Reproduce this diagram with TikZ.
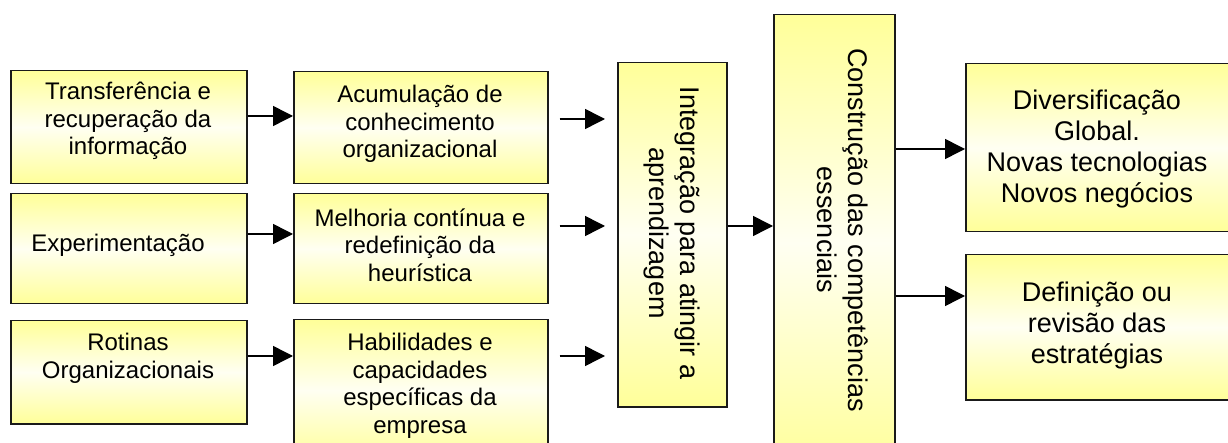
\documentclass[tikz,border=0pt]{standalone}
\usepackage{fontspec}
\setmainfont{Liberation Sans}
\usetikzlibrary{arrows.meta}
\definecolor{boxyellow}{HTML}{FFFF99}
\definecolor{boxlight}{HTML}{FFFFF2}
\definecolor{boxline}{HTML}{1A1A1A}
\begin{document}
\begin{tikzpicture}[x=1pt,y=-1pt,
  box/.style={draw=boxline, line width=1.5pt, rectangle, inner sep=0pt, anchor=north west,
    top color=boxyellow, bottom color=boxyellow, middle color=boxlight},
  txt/.style={align=center, font=\fontsize{24}{27.5}\selectfont, inner sep=0pt},
  bigtxt/.style={align=center, font=\fontsize{27}{31}\selectfont, inner sep=0pt},
  arr/.style={line width=1.5pt, draw=black, -{Triangle[length=20pt,width=20pt]}},
]
\useasboundingbox (0,0) rectangle (1228,443);
% boxes
\node[box, minimum width=236pt, minimum height=113pt] (A1) at (10,70) {};
\node[box, minimum width=236pt, minimum height=110pt] (A2) at (10,193) {};
\node[box, minimum width=236pt, minimum height=103pt] (A3) at (10,320) {};
\node[box, minimum width=254pt, minimum height=112pt] (B1) at (293,71) {};
\node[box, minimum width=254pt, minimum height=110pt] (B2) at (293,193) {};
\node[box, minimum width=254pt, minimum height=141pt] (B3) at (293,319) {};
\node[box, minimum width=109pt, minimum height=344pt] (I) at (617,62) {};
\node[box, minimum width=121pt, minimum height=456pt] (C) at (773,14) {};
\node[box, minimum width=275pt, minimum height=168pt] (D1) at (965,63) {};
\node[box, minimum width=275pt, minimum height=145pt] (D2) at (965,254) {};
% texts
\node[txt] (tA1) at (128,121) {Transferência e\\recuperação da\\informação};
\node[txt] (tA2) at (118,245) {Experimentação};
\node[txt] (tA3) at (128,358.5) {Rotinas\\Organizacionais};
\node[txt] (tB1) at (420,124) {Acumulação de\\conhecimento\\organizacional};
\node[txt] (tB2) at (420,245) {Melhoria contínua e\\redefinição da\\heurística};
\node[txt] (tB3) at (420,386) {Habilidades e\\capacidades\\específicas da\\empresa};
\node[bigtxt, rotate=-90] (tI) at (672,233) {Integração para atingir a\\aprendizagem};
\node[bigtxt, rotate=-90] (tC) at (843,230) {Construção das competências\\essenciais};
\node[bigtxt] (tD1) at (1097,149) {Diversificação\\Global.\\Novas tecnologias\\Novos negócios};
\node[bigtxt] (tD2) at (1097,326) {Definição ou\\revisão das\\estratégias};
% arrow levels
\coordinate (ya1) at (0,116);
\coordinate (ya2) at (0,234);
\coordinate (ya3) at (0,356);
\coordinate (yb1) at (0,119);
\coordinate (yb2) at (0,226);
\coordinate (yb3) at (0,356);
\coordinate (yi) at (0,226);
\coordinate (yd1) at (0,149);
\coordinate (yd2) at (0,296);
% arrows
\draw[arr] (A1.east |- ya1) -- (B1.west |- ya1);
\draw[arr] (A2.east |- ya2) -- (B2.west |- ya2);
\draw[arr] (A3.east |- ya3) -- (B3.west |- ya3);
\draw[arr, shorten <=11pt, shorten >=12pt] (B1.east |- yb1) -- (I.west |- yb1);
\draw[arr, shorten <=11pt, shorten >=12pt] (B2.east |- yb2) -- (I.west |- yb2);
\draw[arr, shorten <=11pt, shorten >=12pt] (B3.east |- yb3) -- (I.west |- yb3);
\draw[arr] (I.east |- yi) -- (C.west |- yi);
\draw[arr] (C.east |- yd1) -- (D1.west |- yd1);
\draw[arr] (C.east |- yd2) -- (D2.west |- yd2);
\end{tikzpicture}
\end{document}
